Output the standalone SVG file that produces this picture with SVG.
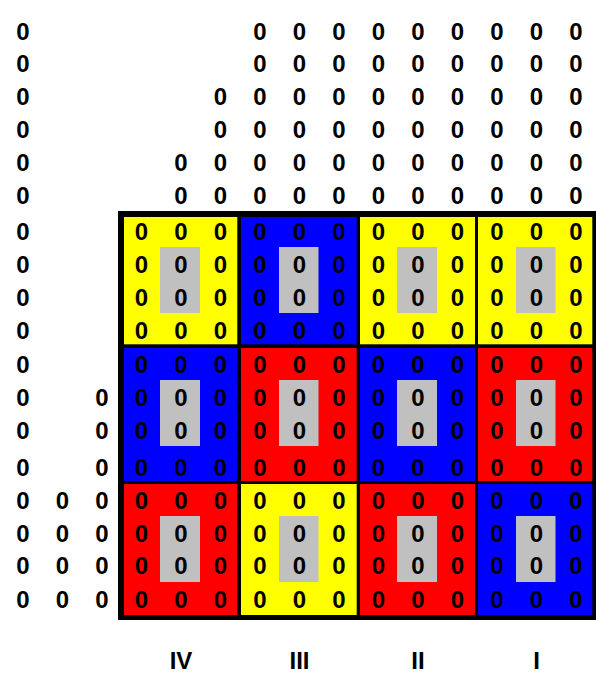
<svg xmlns="http://www.w3.org/2000/svg" width="596" height="675" viewBox="0 0 596 675">
<style>
text{font-family:"Liberation Sans",Arial,sans-serif;font-weight:bold;font-size:24px;fill:#000;text-anchor:middle}
.y{fill:#FFFF00}.b{fill:#0000FF}.r{fill:#FF0000}.g{fill:#C0C0C0}
</style>
<rect x="0" y="0" width="596" height="675" fill="#fff"/>
<g id="outer-zeros">
<text x="23" y="39.5">0</text><text x="260" y="39.5">0</text><text x="299.5" y="39.5">0</text><text x="339" y="39.5">0</text><text x="378.5" y="39.5">0</text><text x="418" y="39.5">0</text><text x="457.5" y="39.5">0</text><text x="497" y="39.5">0</text><text x="536.5" y="39.5">0</text><text x="576" y="39.5">0</text>
<text x="23" y="72">0</text><text x="260" y="72">0</text><text x="299.5" y="72">0</text><text x="339" y="72">0</text><text x="378.5" y="72">0</text><text x="418" y="72">0</text><text x="457.5" y="72">0</text><text x="497" y="72">0</text><text x="536.5" y="72">0</text><text x="576" y="72">0</text>
<text x="23" y="105">0</text><text x="220.5" y="105">0</text><text x="260" y="105">0</text><text x="299.5" y="105">0</text><text x="339" y="105">0</text><text x="378.5" y="105">0</text><text x="418" y="105">0</text><text x="457.5" y="105">0</text><text x="497" y="105">0</text><text x="536.5" y="105">0</text><text x="576" y="105">0</text>
<text x="23" y="138">0</text><text x="220.5" y="138">0</text><text x="260" y="138">0</text><text x="299.5" y="138">0</text><text x="339" y="138">0</text><text x="378.5" y="138">0</text><text x="418" y="138">0</text><text x="457.5" y="138">0</text><text x="497" y="138">0</text><text x="536.5" y="138">0</text><text x="576" y="138">0</text>
<text x="23" y="171">0</text><text x="181" y="171">0</text><text x="220.5" y="171">0</text><text x="260" y="171">0</text><text x="299.5" y="171">0</text><text x="339" y="171">0</text><text x="378.5" y="171">0</text><text x="418" y="171">0</text><text x="457.5" y="171">0</text><text x="497" y="171">0</text><text x="536.5" y="171">0</text><text x="576" y="171">0</text>
<text x="23" y="204">0</text><text x="181" y="204">0</text><text x="220.5" y="204">0</text><text x="260" y="204">0</text><text x="299.5" y="204">0</text><text x="339" y="204">0</text><text x="378.5" y="204">0</text><text x="418" y="204">0</text><text x="457.5" y="204">0</text><text x="497" y="204">0</text><text x="536.5" y="204">0</text><text x="576" y="204">0</text>
<text x="23" y="240">0</text><text x="23" y="273">0</text><text x="23" y="305.5">0</text><text x="23" y="338.5">0</text><text x="23" y="373">0</text>
<text x="23" y="406">0</text><text x="102" y="406">0</text>
<text x="23" y="438.5">0</text><text x="102" y="438.5">0</text>
<text x="23" y="475.5">0</text><text x="102" y="475.5">0</text>
<text x="23" y="509">0</text><text x="62.5" y="509">0</text><text x="102" y="509">0</text>
<text x="23" y="542">0</text><text x="62.5" y="542">0</text><text x="102" y="542">0</text>
<text x="23" y="574">0</text><text x="62.5" y="574">0</text><text x="102" y="574">0</text>
<text x="23" y="607.5">0</text><text x="62.5" y="607.5">0</text><text x="102" y="607.5">0</text>
</g>
<rect id="grid-frame" x="118" y="211" width="478" height="409" fill="#000"/>
<g id="cell-1-1">
<rect class="y" x="124" y="217" width="113.3" height="127.3"/><rect class="g" x="160" y="247" width="40" height="66"/>
<text x="141.5" y="240">0</text><text x="181" y="240">0</text><text x="220.5" y="240">0</text>
<text x="141.5" y="273">0</text><text x="181" y="273">0</text><text x="220.5" y="273">0</text>
<text x="141.5" y="305.5">0</text><text x="181" y="305.5">0</text><text x="220.5" y="305.5">0</text>
<text x="141.5" y="338.5">0</text><text x="181" y="338.5">0</text><text x="220.5" y="338.5">0</text>
</g>
<g id="cell-1-2">
<rect class="b" x="241" y="217" width="115.7" height="127.3"/><rect class="g" x="279" y="247" width="39.5" height="66"/>
<text x="260" y="240">0</text><text x="299.5" y="240">0</text><text x="339" y="240">0</text>
<text x="260" y="273">0</text><text x="299.5" y="273">0</text><text x="339" y="273">0</text>
<text x="260" y="305.5">0</text><text x="299.5" y="305.5">0</text><text x="339" y="305.5">0</text>
<text x="260" y="338.5">0</text><text x="299.5" y="338.5">0</text><text x="339" y="338.5">0</text>
</g>
<g id="cell-1-3">
<rect class="y" x="360" y="217" width="115" height="127.3"/><rect class="g" x="397" y="247" width="40" height="66"/>
<text x="378.5" y="240">0</text><text x="418" y="240">0</text><text x="457.5" y="240">0</text>
<text x="378.5" y="273">0</text><text x="418" y="273">0</text><text x="457.5" y="273">0</text>
<text x="378.5" y="305.5">0</text><text x="418" y="305.5">0</text><text x="457.5" y="305.5">0</text>
<text x="378.5" y="338.5">0</text><text x="418" y="338.5">0</text><text x="457.5" y="338.5">0</text>
</g>
<g id="cell-1-4">
<rect class="y" x="478" y="217" width="114.3" height="127.3"/><rect class="g" x="516" y="247" width="39.5" height="66"/>
<text x="497" y="240">0</text><text x="536.5" y="240">0</text><text x="576" y="240">0</text>
<text x="497" y="273">0</text><text x="536.5" y="273">0</text><text x="576" y="273">0</text>
<text x="497" y="305.5">0</text><text x="536.5" y="305.5">0</text><text x="576" y="305.5">0</text>
<text x="497" y="338.5">0</text><text x="536.5" y="338.5">0</text><text x="576" y="338.5">0</text>
</g>
<g id="cell-2-1">
<rect class="b" x="124" y="348" width="113.3" height="133"/><rect class="g" x="160" y="380" width="40" height="66"/>
<text x="141.5" y="373">0</text><text x="181" y="373">0</text><text x="220.5" y="373">0</text>
<text x="141.5" y="406">0</text><text x="181" y="406">0</text><text x="220.5" y="406">0</text>
<text x="141.5" y="438.5">0</text><text x="181" y="438.5">0</text><text x="220.5" y="438.5">0</text>
<text x="141.5" y="475.5">0</text><text x="181" y="475.5">0</text><text x="220.5" y="475.5">0</text>
</g>
<g id="cell-2-2">
<rect class="r" x="241" y="348" width="115.7" height="133"/><rect class="g" x="279" y="380" width="39.5" height="66"/>
<text x="260" y="373">0</text><text x="299.5" y="373">0</text><text x="339" y="373">0</text>
<text x="260" y="406">0</text><text x="299.5" y="406">0</text><text x="339" y="406">0</text>
<text x="260" y="438.5">0</text><text x="299.5" y="438.5">0</text><text x="339" y="438.5">0</text>
<text x="260" y="475.5">0</text><text x="299.5" y="475.5">0</text><text x="339" y="475.5">0</text>
</g>
<g id="cell-2-3">
<rect class="b" x="360" y="348" width="115" height="133"/><rect class="g" x="397" y="380" width="40" height="66"/>
<text x="378.5" y="373">0</text><text x="418" y="373">0</text><text x="457.5" y="373">0</text>
<text x="378.5" y="406">0</text><text x="418" y="406">0</text><text x="457.5" y="406">0</text>
<text x="378.5" y="438.5">0</text><text x="418" y="438.5">0</text><text x="457.5" y="438.5">0</text>
<text x="378.5" y="475.5">0</text><text x="418" y="475.5">0</text><text x="457.5" y="475.5">0</text>
</g>
<g id="cell-2-4">
<rect class="r" x="478" y="348" width="114.3" height="133"/><rect class="g" x="516" y="380" width="39.5" height="66"/>
<text x="497" y="373">0</text><text x="536.5" y="373">0</text><text x="576" y="373">0</text>
<text x="497" y="406">0</text><text x="536.5" y="406">0</text><text x="576" y="406">0</text>
<text x="497" y="438.5">0</text><text x="536.5" y="438.5">0</text><text x="576" y="438.5">0</text>
<text x="497" y="475.5">0</text><text x="536.5" y="475.5">0</text><text x="576" y="475.5">0</text>
</g>
<g id="cell-3-1">
<rect class="r" x="124" y="484" width="113.3" height="131"/><rect class="g" x="160" y="516" width="40" height="66"/>
<text x="141.5" y="509">0</text><text x="181" y="509">0</text><text x="220.5" y="509">0</text>
<text x="141.5" y="542">0</text><text x="181" y="542">0</text><text x="220.5" y="542">0</text>
<text x="141.5" y="574">0</text><text x="181" y="574">0</text><text x="220.5" y="574">0</text>
<text x="141.5" y="607.5">0</text><text x="181" y="607.5">0</text><text x="220.5" y="607.5">0</text>
</g>
<g id="cell-3-2">
<rect class="y" x="241" y="484" width="115.7" height="131"/><rect class="g" x="279" y="516" width="39.5" height="66"/>
<text x="260" y="509">0</text><text x="299.5" y="509">0</text><text x="339" y="509">0</text>
<text x="260" y="542">0</text><text x="299.5" y="542">0</text><text x="339" y="542">0</text>
<text x="260" y="574">0</text><text x="299.5" y="574">0</text><text x="339" y="574">0</text>
<text x="260" y="607.5">0</text><text x="299.5" y="607.5">0</text><text x="339" y="607.5">0</text>
</g>
<g id="cell-3-3">
<rect class="r" x="360" y="484" width="115" height="131"/><rect class="g" x="397" y="516" width="40" height="66"/>
<text x="378.5" y="509">0</text><text x="418" y="509">0</text><text x="457.5" y="509">0</text>
<text x="378.5" y="542">0</text><text x="418" y="542">0</text><text x="457.5" y="542">0</text>
<text x="378.5" y="574">0</text><text x="418" y="574">0</text><text x="457.5" y="574">0</text>
<text x="378.5" y="607.5">0</text><text x="418" y="607.5">0</text><text x="457.5" y="607.5">0</text>
</g>
<g id="cell-3-4">
<rect class="b" x="478" y="484" width="114.3" height="131"/><rect class="g" x="516" y="516" width="39.5" height="66"/>
<text x="497" y="509">0</text><text x="536.5" y="509">0</text><text x="576" y="509">0</text>
<text x="497" y="542">0</text><text x="536.5" y="542">0</text><text x="576" y="542">0</text>
<text x="497" y="574">0</text><text x="536.5" y="574">0</text><text x="576" y="574">0</text>
<text x="497" y="607.5">0</text><text x="536.5" y="607.5">0</text><text x="576" y="607.5">0</text>
</g>
<g id="column-labels">
<text x="181" y="669">IV</text><text x="299.5" y="669">III</text><text x="418" y="669">II</text><text x="536.5" y="669">I</text>
</g>
<g id="connectors"/>
</svg>
